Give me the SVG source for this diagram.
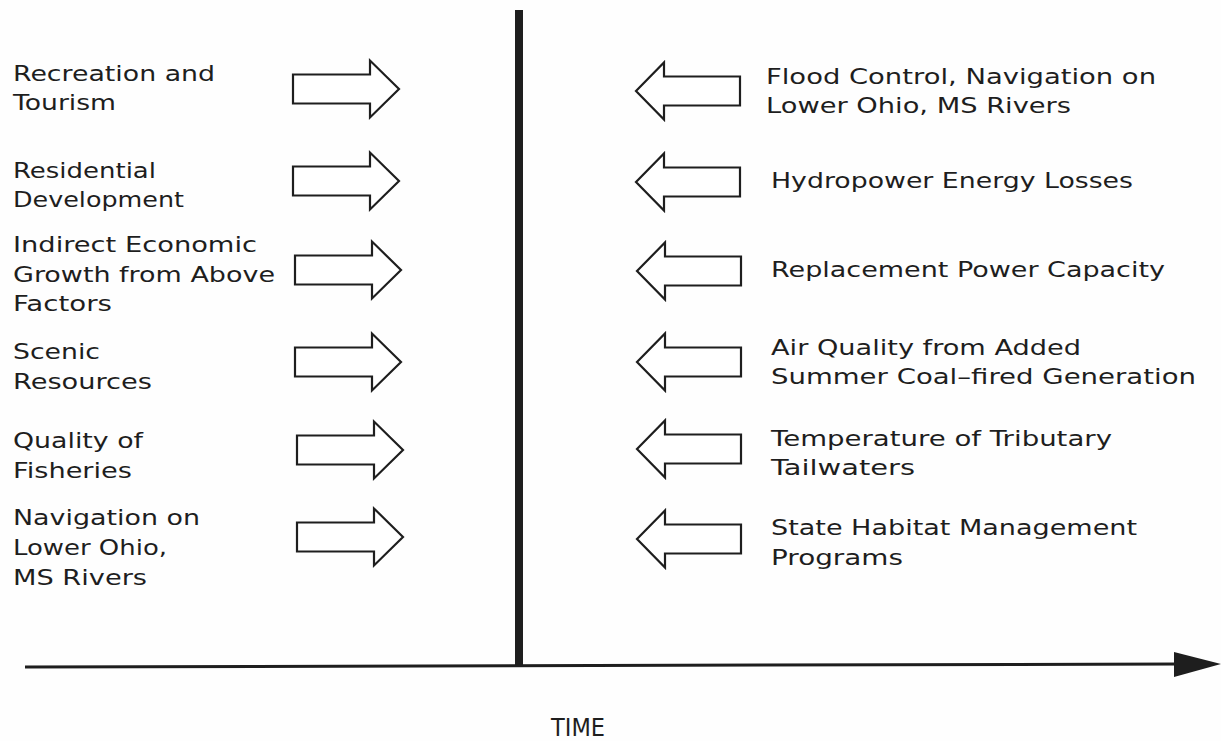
<svg xmlns="http://www.w3.org/2000/svg" width="1221" height="741" viewBox="0 0 1221 741">
  <style>
    .lbl { font-family: "DejaVu Sans", "Liberation Sans", sans-serif; font-size: 22px; fill: #1e1e1e; }
    .time { font-family: "DejaVu Sans", "Liberation Sans", sans-serif; font-size: 24px; fill: #1e1e1e; }
    .blk { fill: #fff; stroke: #1e1e1e; stroke-width: 2.2; stroke-linejoin: miter; }
  </style>
  <defs>
    <!-- block arrow pointing right, origin at shaft tail centre -->
    <path id="arrR" d="M0,-14.5 H77 V-28.5 L106,0 L77,28.5 V14.5 H0 Z"/>
    <!-- block arrow pointing left, origin at tip -->
    <path id="arrL" d="M0,0 L28,-28.5 V-14.5 H104 V14.5 H28 V28.5 Z"/>
  </defs>
  <rect width="1221" height="741" fill="#fefefe"/>

  <!-- time axes -->
  <g id="connectors">
    <rect x="515" y="10" width="8" height="657" fill="#1e1e1e"/>
    <line x1="25" y1="667" x2="1180" y2="664" stroke="#1e1e1e" stroke-width="3"/>
    <polygon points="1174,652 1221,664 1174,677" fill="#1e1e1e"/>
  </g>

  <!-- left-hand factors -->
  <g id="recreation">
    <text class="lbl" x="13" y="81" textLength="202" lengthAdjust="spacingAndGlyphs">Recreation and</text>
    <text class="lbl" x="13" y="110" textLength="103" lengthAdjust="spacingAndGlyphs">Tourism</text>
    <use href="#arrR" class="blk" x="293" y="89"/>
  </g>
  <g id="residential">
    <text class="lbl" x="13" y="178" textLength="143" lengthAdjust="spacingAndGlyphs">Residential</text>
    <text class="lbl" x="13" y="207" textLength="171" lengthAdjust="spacingAndGlyphs">Development</text>
    <use href="#arrR" class="blk" x="293" y="181"/>
  </g>
  <g id="indirect">
    <text class="lbl" x="13" y="252" textLength="244" lengthAdjust="spacingAndGlyphs">Indirect Economic</text>
    <text class="lbl" x="13" y="282" textLength="262" lengthAdjust="spacingAndGlyphs">Growth from Above</text>
    <text class="lbl" x="13" y="311" textLength="99" lengthAdjust="spacingAndGlyphs">Factors</text>
    <use href="#arrR" class="blk" x="295" y="270"/>
  </g>
  <g id="scenic">
    <text class="lbl" x="13" y="359" textLength="87" lengthAdjust="spacingAndGlyphs">Scenic</text>
    <text class="lbl" x="13" y="389" textLength="139" lengthAdjust="spacingAndGlyphs">Resources</text>
    <use href="#arrR" class="blk" x="295" y="362"/>
  </g>
  <g id="fisheries">
    <text class="lbl" x="13" y="448" textLength="130" lengthAdjust="spacingAndGlyphs">Quality of</text>
    <text class="lbl" x="13" y="478" textLength="119" lengthAdjust="spacingAndGlyphs">Fisheries</text>
    <use href="#arrR" class="blk" x="297" y="450"/>
  </g>
  <g id="navigation-left">
    <text class="lbl" x="13" y="525" textLength="187" lengthAdjust="spacingAndGlyphs">Navigation on</text>
    <text class="lbl" x="13" y="555" textLength="154" lengthAdjust="spacingAndGlyphs">Lower Ohio,</text>
    <text class="lbl" x="13" y="585" textLength="134" lengthAdjust="spacingAndGlyphs">MS Rivers</text>
    <use href="#arrR" class="blk" x="297" y="537"/>
  </g>

  <!-- right-hand factors -->
  <g id="flood-control">
    <use href="#arrL" class="blk" x="636" y="91"/>
    <text class="lbl" x="766" y="84" textLength="390" lengthAdjust="spacingAndGlyphs">Flood Control, Navigation on</text>
    <text class="lbl" x="766" y="113" textLength="305" lengthAdjust="spacingAndGlyphs">Lower Ohio, MS Rivers</text>
  </g>
  <g id="hydropower">
    <use href="#arrL" class="blk" x="636" y="182"/>
    <text class="lbl" x="771" y="188" textLength="362" lengthAdjust="spacingAndGlyphs">Hydropower Energy Losses</text>
  </g>
  <g id="replacement">
    <use href="#arrL" class="blk" x="637" y="271"/>
    <text class="lbl" x="771" y="277" textLength="394" lengthAdjust="spacingAndGlyphs">Replacement Power Capacity</text>
  </g>
  <g id="air-quality">
    <use href="#arrL" class="blk" x="637" y="362"/>
    <text class="lbl" x="771" y="355" textLength="310" lengthAdjust="spacingAndGlyphs">Air Quality from Added</text>
    <text class="lbl" x="771" y="384" textLength="425" lengthAdjust="spacingAndGlyphs">Summer Coal–fired Generation</text>
  </g>
  <g id="temperature">
    <use href="#arrL" class="blk" x="637" y="449"/>
    <text class="lbl" x="771" y="446" textLength="341" lengthAdjust="spacingAndGlyphs">Temperature of Tributary</text>
    <text class="lbl" x="771" y="475" textLength="144" lengthAdjust="spacingAndGlyphs">Tailwaters</text>
  </g>
  <g id="habitat">
    <use href="#arrL" class="blk" x="637" y="539"/>
    <text class="lbl" x="771" y="535" textLength="366" lengthAdjust="spacingAndGlyphs">State Habitat Management</text>
    <text class="lbl" x="771" y="565" textLength="132" lengthAdjust="spacingAndGlyphs">Programs</text>
  </g>

  <g id="time-label">
    <text class="time" x="551" y="736" textLength="54" lengthAdjust="spacingAndGlyphs">TIME</text>
  </g>
</svg>
